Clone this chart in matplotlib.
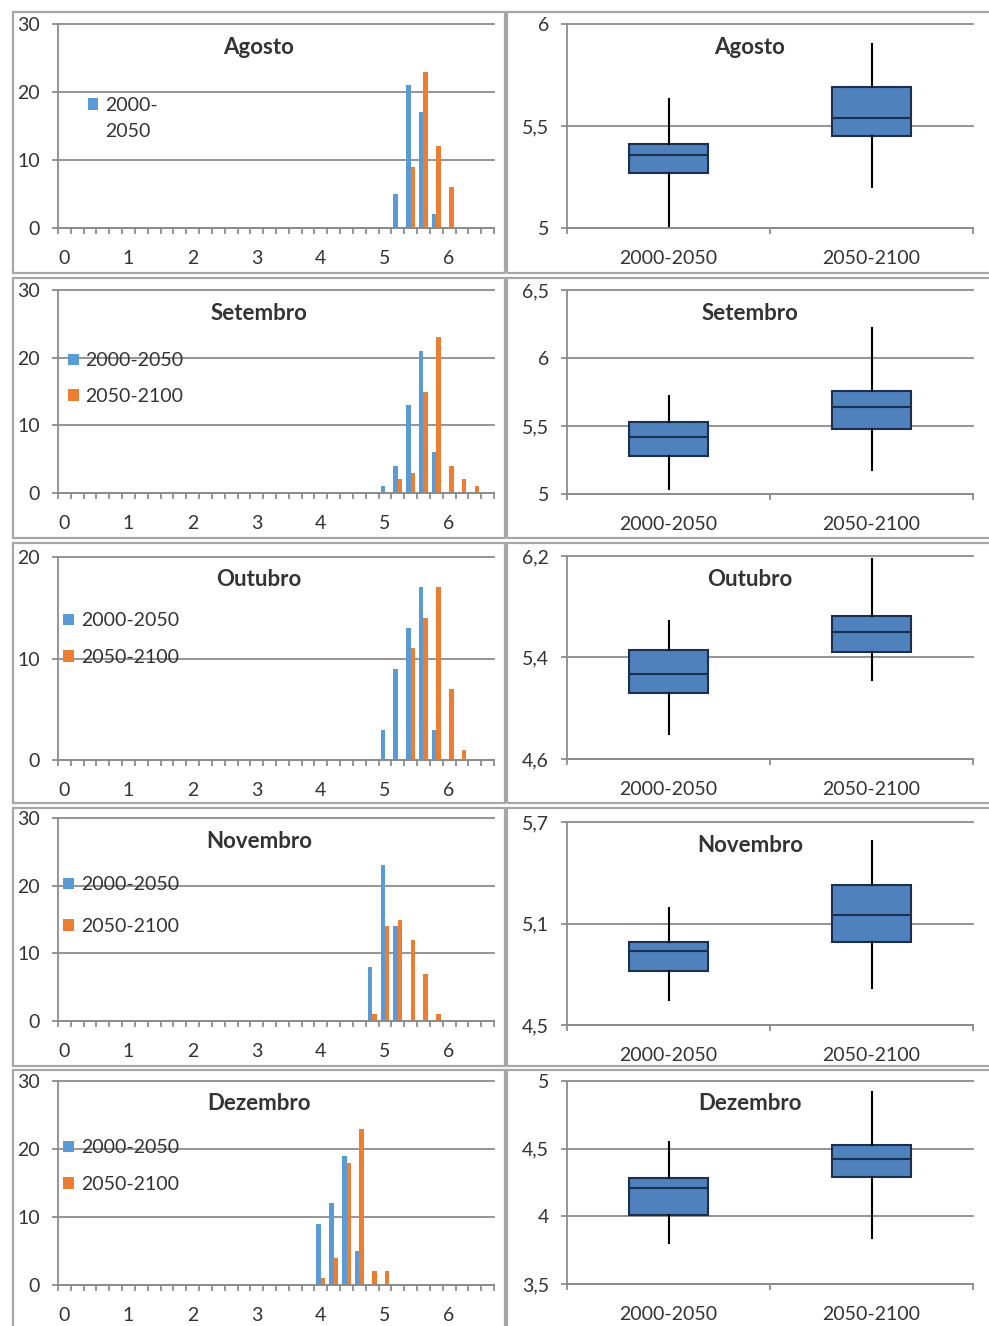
import numpy as np
import matplotlib
matplotlib.use('Agg')
import matplotlib.pyplot as plt
from matplotlib.patches import Rectangle

plt.rcParams['font.family'] = ['Lato', 'DejaVu Sans']

# ---- data ----
months = ['Agosto', 'Setembro', 'Outubro', 'Novembro', 'Dezembro']
periods = ['2000-2050', '2050-2100']

# histogram counts (bin value -> count), first period blue, second orange
ago_bins_a = [5.2, 5.4, 5.6, 5.8]
ago_cnt_a = [5, 21, 17, 2]
ago_bins_b = [5.4, 5.6, 5.8, 6.0]
ago_cnt_b = [9, 23, 12, 6]

set_bins_a = [5.0, 5.2, 5.4, 5.6, 5.8]
set_cnt_a = [1, 4, 13, 21, 6]
set_bins_b = [5.2, 5.4, 5.6, 5.8, 6.0, 6.2, 6.4]
set_cnt_b = [2, 3, 15, 23, 4, 2, 1]

out_bins_a = [5.0, 5.2, 5.4, 5.6, 5.8]
out_cnt_a = [3, 9, 13, 17, 3]
out_bins_b = [5.4, 5.6, 5.8, 6.0, 6.2]
out_cnt_b = [11, 14, 17, 7, 1]

nov_bins_a = [4.8, 5.0, 5.2]
nov_cnt_a = [8, 23, 14]
nov_bins_b = [4.8, 5.0, 5.2, 5.4, 5.6, 5.8]
nov_cnt_b = [1, 14, 15, 12, 7, 1]

dez_bins_a = [4.0, 4.2, 4.4, 4.6]
dez_cnt_a = [9, 12, 19, 5]
dez_bins_b = [4.0, 4.2, 4.4, 4.6, 4.8, 5.0]
dez_cnt_b = [1, 4, 18, 23, 2, 2]

hist_ymax = [30, 30, 20, 30, 30]

# box plot stats: [whislo, q1, med, q3, whishi]
ago_box = [[5.00, 5.27, 5.36, 5.41, 5.63], [5.20, 5.45, 5.54, 5.69, 5.90]]
set_box = [[5.04, 5.28, 5.42, 5.53, 5.72], [5.18, 5.48, 5.64, 5.76, 6.22]]
out_box = [[4.80, 5.12, 5.27, 5.46, 5.69], [5.22, 5.44, 5.60, 5.73, 6.18]]
nov_box = [[4.65, 4.82, 4.94, 4.99, 5.19], [4.72, 4.99, 5.15, 5.33, 5.59]]
dez_box = [[3.80, 4.01, 4.21, 4.28, 4.55], [3.84, 4.29, 4.42, 4.53, 4.92]]

box_yticks = [[5, 5.5, 6], [5, 5.5, 6, 6.5], [4.6, 5.4, 6.2],
              [4.5, 5.1, 5.7], [3.5, 4, 4.5, 5]]
box_ylabels = [['5', '5,5', '6'], ['5', '5,5', '6', '6,5'], ['4,6', '5,4', '6,2'],
               ['4,5', '5,1', '5,7'], ['3,5', '4', '4,5', '5']]

hist_a = [(ago_bins_a, ago_cnt_a), (set_bins_a, set_cnt_a), (out_bins_a, out_cnt_a),
          (nov_bins_a, nov_cnt_a), (dez_bins_a, dez_cnt_a)]
hist_b = [(ago_bins_b, ago_cnt_b), (set_bins_b, set_cnt_b), (out_bins_b, out_cnt_b),
          (nov_bins_b, nov_cnt_b), (dez_bins_b, dez_cnt_b)]
boxes = [ago_box, set_box, out_box, nov_box, dez_box]

# ---- layout (pixels) ----
W, H = 989, 1326
row_top = [12, 278, 543, 808, 1070]
row_bot = [273, 538, 803, 1066, 1340]
hist_y = [(24, 228), (290, 493), (557, 760), (818, 1021), (1081, 1285)]
box_y = [(24, 228), (290, 494), (556, 759), (822, 1025), (1081, 1284)]
leg_pos = [(0.068, 0.537), (0.023, 0.564), (0.012, 0.595), (0.012, 0.569), (0.012, 0.583)]
leg_space = [0.45, 0.95, 1.0, 1.25, 1.0]

blue = '#5B9BD5'
orange = '#ED7D31'
gray = '#8c8c8c'
txt = '#333333'

fig = plt.figure(figsize=(W / 100, H / 100), dpi=100)


def frac(x0, x1, yt, yb):
    return [x0 / W, 1 - yb / H, (x1 - x0) / W, (yb - yt) / H]


def style(ax):
    for s in ['top', 'right']:
        ax.spines[s].set_visible(False)
    for s in ['left', 'bottom']:
        ax.spines[s].set_color(gray)
        ax.spines[s].set_linewidth(1.3)
    ax.set_axisbelow(True)
    ax.yaxis.grid(True, color=gray, lw=1.3)
    for gl in ax.get_ygridlines():
        gl.set_clip_on(False)
    ax.tick_params(axis='y', which='major', length=4, width=1.3, color=gray,
                   pad=9, labelsize=14, labelcolor=txt)
    ax.tick_params(axis='x', which='major', length=0, pad=16,
                   labelsize=14, labelcolor=txt)
    ax.tick_params(axis='x', which='minor', length=4, width=1.3, color=gray)


for i, m in enumerate(months):
    # chart frames
    for cx0, cx1 in [(13, 505), (507, 993)]:
        fig.add_artist(Rectangle((cx0 / W, 1 - row_bot[i] / H), (cx1 - cx0) / W,
                                 (row_bot[i] - row_top[i]) / H,
                                 transform=fig.transFigure, fill=False,
                                 ec='#a6a6a6', lw=1.6))

    # histogram
    ax = fig.add_axes(frac(58, 494, *hist_y[i]))
    ba, ca = hist_a[i]
    bb, cb = hist_b[i]
    ha = ax.bar(np.array(ba) - 0.035, ca, width=0.07, color=blue)
    hb = ax.bar(np.array(bb) + 0.035, cb, width=0.07, color=orange)
    ax.set_xlim(-0.1, 6.7)
    ax.set_ylim(0, hist_ymax[i])
    ax.set_yticks(range(0, hist_ymax[i] + 1, 10))
    ax.set_xticks(range(7))
    ax.set_xticks(np.arange(-0.1, 6.75, 0.2), minor=True)
    style(ax)
    if i == 0:
        # legend box too narrow in the original: only the first entry, wrapped
        blank = Rectangle((0, 0), 1, 1, fc='none', ec='none')
        handles, labels = [ha, blank], ['2000-', '2050']
    else:
        handles, labels = [ha, hb], periods
    ax.legend(handles, labels, loc='center left', bbox_to_anchor=leg_pos[i],
              frameon=False, fontsize=14, handlelength=0.55, handleheight=0.55,
              handletextpad=0.35, labelspacing=leg_space[i], borderpad=0,
              borderaxespad=0, labelcolor=txt)
    fig.text(259 / W, 1 - (hist_y[i][0] + 23) / H, m, ha='center', va='center',
             fontsize=16, fontweight='bold', color=txt)

    # box plot
    bx = fig.add_axes(frac(567, 973, *box_y[i]))
    stats = []
    for p, (lo, q1, md, q3, hi) in zip(periods, boxes[i]):
        stats.append(dict(label=p, whislo=lo, q1=q1, med=md, q3=q3, whishi=hi, fliers=[]))
    bx.bxp(stats, positions=[0, 1], widths=0.39, showcaps=False, showfliers=False,
           patch_artist=True,
           boxprops=dict(facecolor='#4F81BD', edgecolor='#1B2F4E', lw=1.5),
           medianprops=dict(color='#1B2F4E', lw=1.5),
           whiskerprops=dict(color='black', lw=1.5))
    bx.set_xlim(-0.5, 1.5)
    bx.set_ylim(box_yticks[i][0], box_yticks[i][-1])
    bx.set_yticks(box_yticks[i])
    bx.set_yticklabels(box_ylabels[i])
    bx.set_xticks([0, 1])
    bx.set_xticklabels(periods)
    bx.set_xticks([-0.5, 0.5, 1.5], minor=True)
    style(bx)
    fig.text(750 / W, 1 - (box_y[i][0] + 23) / H, m, ha='center', va='center',
             fontsize=16, fontweight='bold', color=txt)

fig.savefig('out.png', dpi=100)
